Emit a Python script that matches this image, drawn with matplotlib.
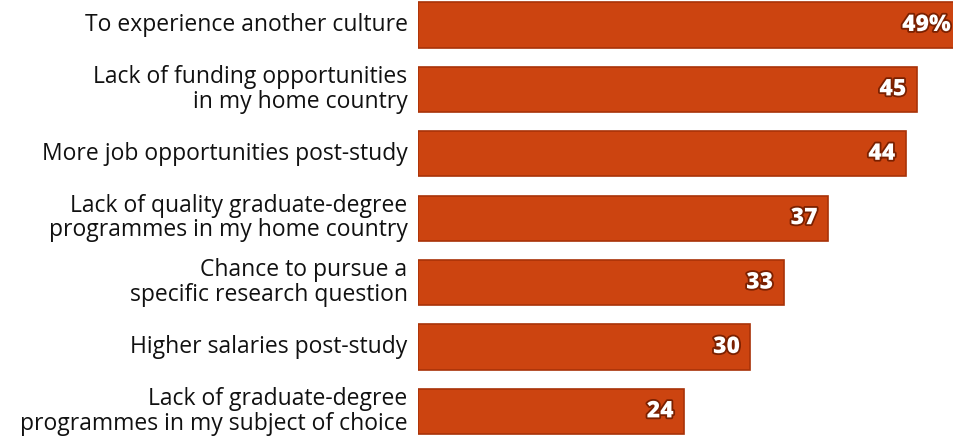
import matplotlib
matplotlib.use("Agg")
import matplotlib.pyplot as plt
import matplotlib.patheffects as pe

categories = [
    "To experience another culture",
    "Lack of funding opportunities\nin my home country",
    "More job opportunities post-study",
    "Lack of quality graduate-degree\nprogrammes in my home country",
    "Chance to pursue a\nspecific research question",
    "Higher salaries post-study",
    "Lack of graduate-degree\nprogrammes in my subject of choice",
]
values = [49, 45, 44, 37, 33, 30, 24]
value_labels = ["49%", "45", "44", "37", "33", "30", "24"]

W, H = 954, 436
fig = plt.figure(figsize=(W / 100, H / 100), dpi=100)
fig.patch.set_facecolor("white")

px_per_unit = 11.08
x0 = 418
xmax = 50
ax = fig.add_axes([x0 / W, 0, xmax * px_per_unit / W, 1])
ax.set_xlim(0, xmax)
spacing = 64.4
top_c = 25
ax.set_ylim((H - top_c) / spacing, -top_c / spacing)
ax.axis("off")

ys = list(range(len(values)))
ax.barh(ys, values, height=0.70, color="#CC4410", edgecolor="#A83208",
        linewidth=1.2)

for y, v, lab, cat in zip(ys, values, value_labels, categories):
    ax.annotate(lab, xy=(v, y), xytext=(-7.5, 0), textcoords="offset points",
                ha="right", va="center", color="white", fontsize=16.5,
                fontweight="heavy", family="Open Sans",
                path_effects=[pe.withStroke(linewidth=2.6, foreground="#7A2000")])
    ax.annotate(cat, xy=(0, y), xytext=(-7.5, 0), textcoords="offset points",
                ha="right", va="center", color="#111111", fontsize=16.5,
                family="Open Sans", multialignment="right", linespacing=1.02)

fig.savefig("out.png", dpi=100)
